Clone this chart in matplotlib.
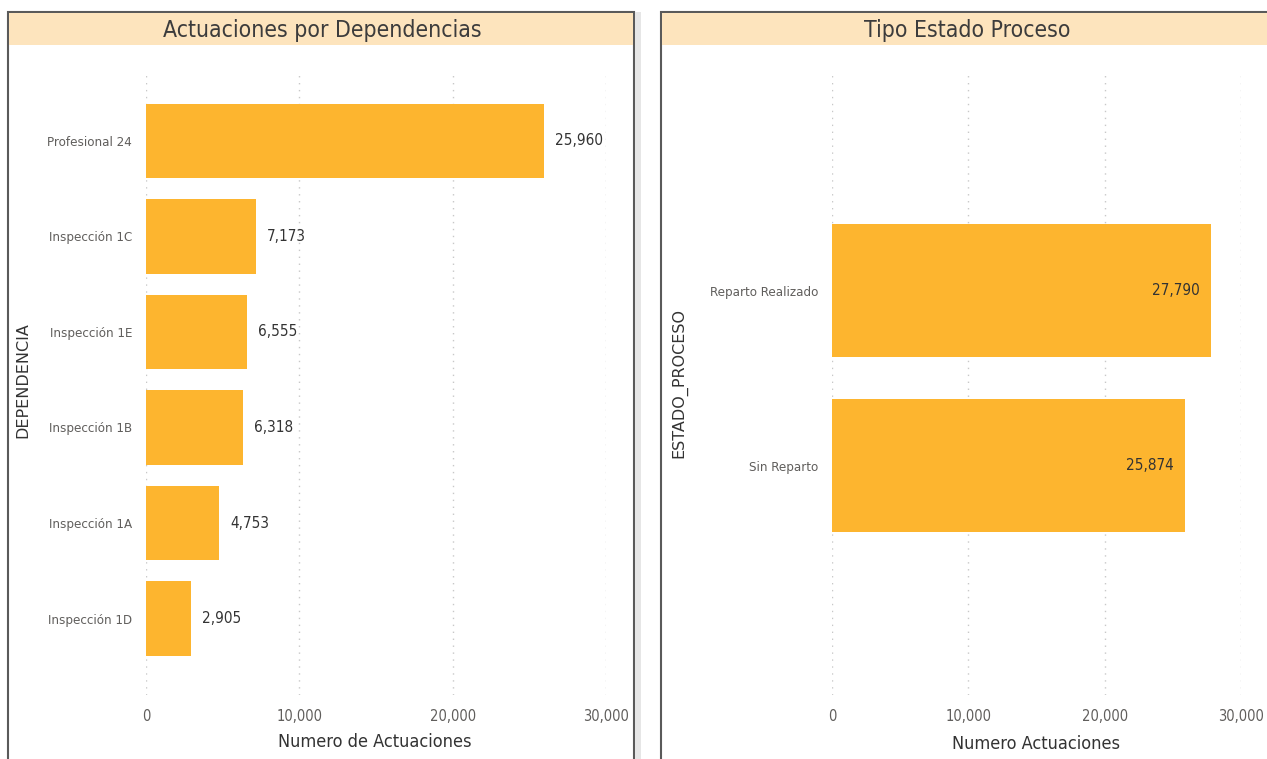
import matplotlib
matplotlib.use("Agg")
import matplotlib.pyplot as plt
from matplotlib.patches import Rectangle
from matplotlib.ticker import FuncFormatter

W, H = 1267, 759
BAR = "#fdb52f"
TITLE_BG = "#fde4bd"
TXT = "#605e5c"
DARK = "#333333"
BORDER = "#5a5a5a"

dep_names = ["Profesional 24", "Inspección 1C", "Inspección 1E",
             "Inspección 1B", "Inspección 1A", "Inspección 1D"]
dep_values = [25960, 7173, 6555, 6318, 4753, 2905]

est_names = ["Reparto Realizado", "Sin Reparto"]
est_values = [27790, 25874]

x_ticks = [0, 10000, 20000, 30000]

plt.rcParams["font.family"] = ["DejaVu Sans"]

fig = plt.figure(figsize=(W / 100, H / 100), dpi=100)
fig.patch.set_facecolor("white")


def px_rect(x0, y0, x1, y1):
    # pixel box (top-left origin) -> figure fraction [l, b, w, h]
    return [x0 / W, 1 - y1 / H, (x1 - x0) / W, (y1 - y0) / H]


def panel(x0, x1, title, title_cx):
    l, b, w, h = px_rect(x0, 12, x1, H + 5)
    fig.patches.append(Rectangle((l, b), w, h, transform=fig.transFigure,
                                 facecolor="white", edgecolor=BORDER, lw=1.5, zorder=0))
    l, b, w, h = px_rect(x0 + 1, 13, x1 - 1, 45)
    fig.patches.append(Rectangle((l, b), w, h, transform=fig.transFigure,
                                 facecolor=TITLE_BG, edgecolor="none", zorder=1))
    fig.text(title_cx / W, 1 - 30 / H, title, ha="center", va="center",
             fontsize=16.5, color="#3c3c3c", fontstretch="condensed", zorder=6)


def style_axes(ax):
    ax.set_zorder(5)
    ax.patch.set_alpha(0)
    ax.set_xlim(0, 30000)
    ax.set_xticks(x_ticks)
    ax.xaxis.set_major_formatter(FuncFormatter(lambda v, p: f"{int(v):,}"))
    ax.grid(axis="x", color="#c8c8c8", linestyle=(0, (1, 4)), lw=1)
    ax.set_axisbelow(True)
    for s in ax.spines.values():
        s.set_visible(False)
    ax.tick_params(axis="both", length=0, colors=TXT)
    ax.tick_params(axis="x", labelsize=10.5, pad=10)
    ax.tick_params(axis="y", labelsize=9.5, pad=10)
    for t in ax.get_xticklabels() + ax.get_yticklabels():
        t.set_fontstretch("condensed")


# left panel
panel(8, 634, "Actuaciones por Dependencias", 322)
# soft shadow at the right edge of the left panel
l, b, w, h = px_rect(635, 12, 641, H)
fig.patches.append(Rectangle((l, b), w, h, transform=fig.transFigure,
                             facecolor="#e6e6e6", edgecolor="none", zorder=0))

ax1 = fig.add_axes(px_rect(146, 72, 606, 695))
ax1.barh(range(len(dep_names)), dep_values, height=0.78, color=BAR)
ax1.set_yticks(range(len(dep_names)))
ax1.set_yticklabels(dep_names)
ax1.set_ylim(5.8, -0.72)
style_axes(ax1)
for i, v in enumerate(dep_values):
    ax1.annotate(f"{v:,}", (v, i), xytext=(8, 0), textcoords="offset points",
                 ha="left", va="center", fontsize=11, color=DARK,
                 fontstretch="condensed")
fig.text(375 / W, 1 - 742 / H, "Numero de Actuaciones", ha="center", va="center",
         fontsize=13, color=DARK, fontstretch="condensed", zorder=6)
fig.text(23 / W, 1 - 380 / H, "DEPENDENCIA", ha="center", va="center",
         rotation=90, fontsize=11.5, color=DARK, zorder=6)

# right panel
panel(661, W + 5, "Tipo Estado Proceso", 967)
ax2 = fig.add_axes(px_rect(832, 72, 1241, 695))
ax2.barh(range(len(est_names)), est_values, height=0.76, color=BAR)
ax2.set_yticks(range(len(est_names)))
ax2.set_yticklabels(est_names)
ax2.set_ylim(2.31, -1.25)
style_axes(ax2)
for i, v in enumerate(est_values):
    ax2.annotate(f"{v:,}", (v, i), xytext=(-8, 0), textcoords="offset points",
                 ha="right", va="center", fontsize=11, color=DARK,
                 fontstretch="condensed")
fig.text(1036 / W, 1 - 744 / H, "Numero Actuaciones", ha="center", va="center",
         fontsize=13, color=DARK, fontstretch="condensed", zorder=6)
fig.text(679 / W, 1 - 383 / H, "ESTADO_PROCESO", ha="center", va="center",
         rotation=90, fontsize=11.5, color=DARK, zorder=6)

fig.savefig("out.png", dpi=100, facecolor="white")
